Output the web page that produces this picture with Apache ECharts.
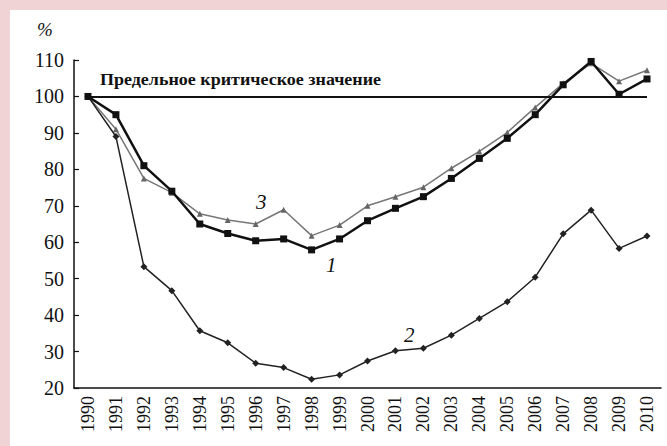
<!DOCTYPE html>
<html><head><meta charset="utf-8">
<script src="https://cdn.jsdelivr.net/npm/echarts@6/dist/echarts.min.js"></script>
<style>
html,body{margin:0;padding:0;background:#efd3d5;}
#wrap{position:absolute;left:10px;top:10px;width:657px;height:436px;background:#fff;}
#c{position:absolute;left:0;top:0;width:667px;height:446px;}
</style></head>
<body><div id="wrap"></div><div id="c"></div>
<script>
const years = ['1990','1991','1992','1993','1994','1995','1996','1997','1998','1999','2000','2001','2002','2003','2004','2005','2006','2007','2008','2009','2010'];
const series1 = [100,95,81,74,65,62.4,60.4,60.9,57.9,60.9,65.9,69.3,72.5,77.5,83,88.5,95,103.2,109.6,100.6,104.8];
const series2 = [100,89,53.3,46.7,35.7,32.4,26.8,25.6,22.4,23.6,27.4,30.2,30.9,34.5,39.1,43.7,50.4,62.3,68.8,58.3,61.7];
const series3 = [100,91,77.5,73.6,67.8,66.1,65,68.9,61.8,64.7,70,72.5,75.1,80.3,84.9,90.1,97,103.6,109.1,104.2,107.2];
const yTicks = {min:20, max:110, interval:10};
const criticalValue = 100;
const criticalLabel = 'Предельное критическое значение';

const font = "'Liberation Serif', 'Times New Roman', serif";
const chart = echarts.init(document.getElementById('c'), null, {renderer:'svg'});
chart.setOption({
  backgroundColor:'transparent',
  animation:false,
  textStyle:{fontFamily:font},
  grid:{left:74, right:6, top:60, bottom:58},
  xAxis:{type:'category', data:years, boundaryGap:true,
    axisLine:{lineStyle:{color:'#111', width:1.5}},
    axisTick:{inside:true, length:6, lineStyle:{color:'#111', width:1.2}},
    axisLabel:{rotate:90, margin:8, fontFamily:font, fontSize:18, color:'#111', interval:0}},
  yAxis:{type:'value', min:yTicks.min, max:yTicks.max, interval:yTicks.interval,
    splitLine:{show:false},
    axisLine:{show:true, lineStyle:{color:'#111', width:1.5}},
    axisTick:{show:true, inside:true, length:5, lineStyle:{color:'#111', width:1.2}},
    axisLabel:{margin:10, fontFamily:font, fontSize:20, color:'#111'}},
  series:[
    {name:'3', type:'line', data:series3, symbol:'triangle', symbolSize:6,
     lineStyle:{color:'#777', width:1.5}, itemStyle:{color:'#666'}, z:2},
    {name:'2', type:'line', data:series2, symbol:'diamond', symbolSize:7,
     lineStyle:{color:'#222', width:1.5}, itemStyle:{color:'#222'}, z:3},
    {name:'1', type:'line', data:series1, symbol:'rect', symbolSize:7,
     lineStyle:{color:'#111', width:2.5}, itemStyle:{color:'#111'}, z:4,
     markLine:{silent:true, symbol:'none', label:{show:false},
       lineStyle:{color:'#111', width:2, type:'solid'},
       data:[[{coord:['1990',criticalValue]},{coord:['2010',criticalValue]}]]}}
  ],
  graphic:[
    {type:'text', left:37, top:20, style:{text:'%', fontFamily:font, fontStyle:'italic', fontSize:19, fill:'#111'}},
    {type:'text', x:100, y:71, scaleX:1.06, style:{text:criticalLabel, fontFamily:font, fontWeight:'bold', fontSize:17, fill:'#111'}},
    {type:'text', left:256, top:191, style:{text:'3', fontFamily:font, fontStyle:'italic', fontSize:21, fill:'#111'}},
    {type:'text', left:326, top:254, style:{text:'1', fontFamily:font, fontStyle:'italic', fontSize:21, fill:'#111'}},
    {type:'text', left:404, top:324, style:{text:'2', fontFamily:font, fontStyle:'italic', fontSize:21, fill:'#111'}}
  ]
});
</script></body></html>
